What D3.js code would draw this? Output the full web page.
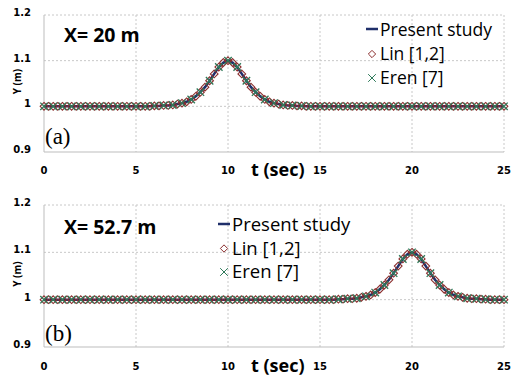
<!DOCTYPE html>
<html>
<head>
<meta charset="utf-8">
<script src="https://cdn.jsdelivr.net/npm/d3@7"></script>
<style>
  body { margin: 0; background: #fff; }
  svg text { fill: #000; }
</style>
</head>
<body>
<div id="chart"></div>
<script>
// Chart size
const width = 511;
const height = 376;

// Axis ticks
const xTicks = [0, 5, 10, 15, 20, 25];
const yTicks = [0.9, 1, 1.1, 1.2];
const yTickLabels = ["0.9", "1", "1.1", "1.2"];

// sample times (uniform steps as in the figure)
const tFine = d3.range(0, 25.001, 0.25);
const tCoarse = d3.range(0, 25.001, 0.5);

// Panel (a): X = 20 m, peak at t = 10
const presentA = [
  1,1,1,1,1,1,1,1,1,1,1,1,1,1,1,1,1,1,1,1,1,1,1,1,
  1.001,1.001,1.002,1.002,1.003,1.005,1.007,1.010,1.015,1.022,1.031,1.042,1.056,1.071,1.086,1.096,
  1.100,
  1.096,1.086,1.071,1.056,1.042,1.031,1.022,1.015,1.010,1.007,1.005,1.003,1.002,1.002,1.001,1.001,
  1,1,1,1,1,1,1,1,1,1,1,1,1,1,1,1,1,1,1,1,1,1,1,1,1,1,1,1,1,1,1,1,1,1,1,1,1,1,1,1,1,1,1,1
];
const linA = [
  1,1,1,1,1,1,1,1,1,1,1,1,1,1,1,1,1,1,1,1,1,1,1,1,
  1.001,1.001,1.002,1.002,1.003,1.005,1.007,1.010,1.015,1.022,1.031,1.042,1.056,1.071,1.086,1.096,
  1.100,
  1.096,1.086,1.071,1.056,1.042,1.031,1.022,1.015,1.010,1.007,1.005,1.003,1.002,1.002,1.001,1.001,
  1,1,1,1,1,1,1,1,1,1,1,1,1,1,1,1,1,1,1,1,1,1,1,1,1,1,1,1,1,1,1,1,1,1,1,1,1,1,1,1,1,1,1,1
];
const erenA = [
  1,1,1,1,1,1,1,1,1,1,1,1,
  1.001,1.002,1.003,1.007,1.015,1.031,1.056,1.086,1.100,1.086,1.056,1.031,1.015,1.007,1.003,1.002,1.001,
  1,1,1,1,1,1,1,1,1,1,1,1,1,1,1,1,1,1,1,1,1,1
];

// Panel (b): X = 52.7 m, peak at t = 20
const presentB = [
  1,1,1,1,1,1,1,1,1,1,1,1,1,1,1,1,1,1,1,1,1,1,1,1,1,1,1,1,1,1,1,1,
  1,1,1,1,1,1,1,1,1,1,1,1,1,1,1,1,1,1,1,1,1,1,1,1,1,1,1,1,1,1,1,1,
  1.001,1.001,1.002,1.002,1.003,1.005,1.007,1.010,1.015,1.022,1.031,1.042,1.056,1.071,1.086,1.096,
  1.100,
  1.096,1.086,1.071,1.056,1.042,1.031,1.022,1.015,1.010,1.007,1.005,1.003,1.002,1.002,1.001,1.001,
  1,1,1,1
];
const linB = [
  1,1,1,1,1,1,1,1,1,1,1,1,1,1,1,1,1,1,1,1,1,1,1,1,1,1,1,1,1,1,1,1,
  1,1,1,1,1,1,1,1,1,1,1,1,1,1,1,1,1,1,1,1,1,1,1,1,1,1,1,1,1,1,1,1,
  1.001,1.001,1.002,1.002,1.003,1.005,1.007,1.010,1.015,1.022,1.031,1.042,1.056,1.071,1.086,1.096,
  1.100,
  1.096,1.086,1.071,1.056,1.042,1.031,1.022,1.015,1.010,1.007,1.005,1.003,1.002,1.002,1.001,1.001,
  1,1,1,1
];
const erenB = [
  1,1,1,1,1,1,1,1,1,1,1,1,1,1,1,1,1,1,1,1,1,1,1,1,1,1,1,1,1,1,1,1,
  1.001,1.002,1.003,1.007,1.015,1.031,1.056,1.086,1.100,1.086,1.056,1.031,1.015,1.007,1.003,1.002,1.001,
  1,1
];

const seriesNames = ["Present study", "Lin [1,2]", "Eren [7]"];
const lineColor = "#1f2f6a";
const linColor = "#8b2e2e";
const erenColor = "#2e7a5a";

const panels = [
  { title: "X= 20 m", tag: "(a)", present: presentA, lin: linA, eren: erenA,
    top: 15, bottom: 152, legendX: 366, legendY: 30, legendGap: 24, legendSize: 17.5,
    titleX: 64, titleY: 42, tagY: 144, tickY: 174 },
  { title: "X= 52.7 m", tag: "(b)", present: presentB, lin: linB, eren: erenB,
    top: 205, bottom: 347, legendX: 218, legendY: 225, legendGap: 23.5, legendSize: 18.5,
    titleX: 64, titleY: 234, tagY: 341, tickY: 370 }
];

const svg = d3.select("#chart").append("svg")
  .attr("width", width)
  .attr("height", height);

const x = d3.scaleLinear().domain([0, 25]).range([44, 504]);

panels.forEach(function(p) {
  const y = d3.scaleLinear().domain([0.9, 1.2]).range([p.bottom, p.top]);
  const g = svg.append("g");

  // dashed grid
  g.selectAll(".vgrid").data(xTicks.slice(1)).enter().append("line")
    .attr("x1", d => x(d)).attr("x2", d => x(d))
    .attr("y1", p.top).attr("y2", p.bottom)
    .attr("stroke", "#c8c8c8").attr("stroke-dasharray", "2,2");
  g.selectAll(".hgrid").data(yTicks.slice(1)).enter().append("line")
    .attr("x1", x(0)).attr("x2", x(25))
    .attr("y1", d => y(d)).attr("y2", d => y(d))
    .attr("stroke", "#c8c8c8").attr("stroke-dasharray", "2,2");

  // axis lines
  g.append("line").attr("x1", x(0)).attr("x2", x(25))
    .attr("y1", p.bottom).attr("y2", p.bottom).attr("stroke", "#bdbdbd");
  g.append("line").attr("x1", x(0)).attr("x2", x(0))
    .attr("y1", p.top).attr("y2", p.bottom).attr("stroke", "#bdbdbd");

  // tick labels
  g.selectAll(".xt").data(xTicks).enter().append("text")
    .attr("x", d => x(d)).attr("y", p.tickY)
    .attr("text-anchor", "middle")
    .style("font", "bold 10px 'DejaVu Sans'")
    .text(d => d);
  g.selectAll(".yt").data(yTicks).enter().append("text")
    .attr("x", 31).attr("y", d => y(d) + 1)
    .attr("text-anchor", "end")
    .style("font", "bold 10px 'DejaVu Sans'")
    .text((d, i) => yTickLabels[i]);

  // axis titles
  g.append("text")
    .attr("transform", "translate(21," + (y(1.05) - 2) + ") rotate(-90)")
    .attr("text-anchor", "middle")
    .style("font", "bold 10px 'Open Sans'")
    .text("Y (m)");
  g.append("text")
    .attr("x", 251).attr("y", p.tickY + 2)
    .style("font", "bold 18px 'Open Sans'")
    .text("t (sec)");

  // panel labels
  g.append("text").attr("x", p.titleX).attr("y", p.titleY)
    .style("font", "bold 19.5px 'Open Sans'")
    .text(p.title);
  g.append("text").attr("x", 45).attr("y", p.tagY)
    .style("font", "23px 'Liberation Serif'")
    .text(p.tag);

  // present study line
  const line = d3.line().x((d, i) => x(tFine[i])).y(d => y(d));
  g.append("path").datum(p.present)
    .attr("d", line)
    .attr("fill", "none")
    .attr("stroke", lineColor)
    .attr("stroke-width", 2.5);

  // Lin diamonds
  const diamond = d3.symbol().type(d3.symbolDiamond2).size(38);
  g.selectAll(".lin").data(p.lin).enter().append("path")
    .attr("d", diamond)
    .attr("transform", (d, i) => "translate(" + x(tFine[i]) + "," + y(d) + ")")
    .attr("fill", "none")
    .attr("stroke", linColor)
    .attr("stroke-width", 1.1);

  // Eren crosses
  const cross = d3.symbol().type(d3.symbolTimes).size(38);
  g.selectAll(".eren").data(p.eren).enter().append("path")
    .attr("d", cross)
    .attr("transform", (d, i) => "translate(" + x(tCoarse[i]) + "," + y(d) + ")")
    .attr("fill", "none")
    .attr("stroke", erenColor)
    .attr("stroke-width", 1.3);

  // legend
  const lg = g.append("g").style("font", p.legendSize + "px 'Open Sans'");
  lg.append("line")
    .attr("x1", p.legendX).attr("x2", p.legendX + 12)
    .attr("y1", p.legendY - 1).attr("y2", p.legendY - 1)
    .attr("stroke", lineColor).attr("stroke-width", 2.5);
  lg.append("path")
    .attr("d", d3.symbol().type(d3.symbolDiamond2).size(34))
    .attr("transform", "translate(" + (p.legendX + 6) + "," + (p.legendY + p.legendGap) + ")")
    .attr("fill", "none").attr("stroke", linColor).attr("stroke-width", 1);
  lg.append("path")
    .attr("d", d3.symbol().type(d3.symbolTimes).size(40))
    .attr("transform", "translate(" + (p.legendX + 6) + "," + (p.legendY + 2 * p.legendGap) + ")")
    .attr("fill", "none").attr("stroke", erenColor).attr("stroke-width", 1);
  lg.selectAll(".lt").data(seriesNames).enter().append("text")
    .attr("x", p.legendX + 14)
    .attr("y", (d, i) => p.legendY + i * p.legendGap + 6)
    .text(d => d);
});
</script>
</body>
</html>
